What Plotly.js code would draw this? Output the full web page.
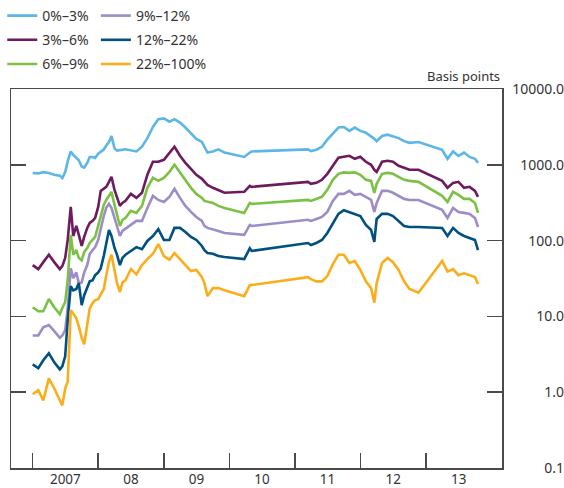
<!DOCTYPE html>
<html>
<head>
<meta charset="utf-8">
<script src="https://cdn.plot.ly/plotly-3.0.1.min.js"></script>
<style>html,body{margin:0;padding:0;background:#fff;}#chart{width:564px;height:488px;}</style>
</head>
<body>
<div id="chart"></div>
<script>
// Shared observation dates (gaps are joined by straight lines, as in the source)
const dates = [
 "2007-01-01","2007-02-01","2007-03-01","2007-04-01","2007-05-01","2007-06-01","2007-06-15",
 "2007-07-01","2007-07-15","2007-08-01","2007-08-15","2007-09-01","2007-09-15","2007-10-01",
 "2007-10-15","2007-11-01","2007-11-15","2007-12-01","2007-12-15",
 "2008-01-01","2008-01-15","2008-02-01","2008-02-15","2008-03-01","2008-03-15","2008-04-01",
 "2008-04-15","2008-05-01","2008-05-15",
 "2008-06-01","2008-07-01","2008-08-01","2008-09-01","2008-10-01","2008-11-01","2008-12-01",
 "2009-01-01","2009-02-01","2009-03-01","2009-04-01","2009-05-01","2009-06-01","2009-07-01",
 "2009-08-01","2009-08-15","2009-09-01","2009-10-01","2009-11-01","2009-12-05",
 "2010-03-25","2010-04-25","2010-05-05",
 "2011-03-15","2011-04-01","2011-05-01","2011-06-01","2011-07-01","2011-08-01","2011-09-01",
 "2011-10-01","2011-11-01","2011-12-01","2012-01-01","2012-02-01","2012-03-01","2012-03-19",
 "2012-04-01","2012-05-01","2012-06-01","2012-07-01","2012-08-01","2012-09-01","2012-10-01",
 "2012-11-20",
 "2013-04-01","2013-05-01","2013-06-01","2013-07-01","2013-08-01","2013-09-01","2013-10-01",
 "2013-10-18"
];

const seriesNames = ["0%–3%","3%–6%","6%–9%","9%–12%","12%–22%","22%–100%"];

const s0to3 = [780,770,800,780,740,720,670,800,1110,1500,1350,1250,1150,950,920,1060,1270,1270,1230,
 1400,1500,1590,1800,2000,2400,1650,1540,1580,1580,
 1600,1540,1500,1730,2250,3150,4000,4100,3700,4000,3600,3100,2600,2200,2000,1750,1450,1500,1600,1450,
 1270,1450,1500,
 1600,1520,1580,1730,2150,2600,3100,3150,2800,3100,2800,2650,2400,2200,
 2050,2400,2500,2400,2250,2050,1950,2000,
 1580,1200,1500,1310,1450,1270,1200,1060];

const s3to6 = [47.5,42,52,65,52,42,46,59,102,278,115,156,119,85,112,147,171,182,199,
 278,453,482,512,596,693,467,366,287,314,
 334,413,366,427,738,1096,1096,1164,1442,1730,1315,1062,885,738,653,596,543,497,467,427,
 440,527,512,
 596,561,578,634,760,970,1239,1276,1315,1199,1276,1096,1000,859,
 807,1096,1130,1096,970,912,859,859,
 614,497,578,596,497,512,453,378];

const s6to9 = [13.2,11.7,11.7,17,13.2,10.7,12.9,15.4,30,119,65,75,59,55,71,80,93,102,112,
 156,218,296,344,389,440,296,218,156,187,
 199,247,232,287,497,673,614,673,807,1000,783,634,497,413,366,334,324,314,287,270,
 232,314,305,
 344,334,355,378,467,634,760,794,783,794,738,634,614,427,
 561,760,783,760,693,634,614,596,
 389,324,440,401,355,355,314,232];

const s9to12 = [5.6,5.6,7.2,7.7,6.4,5.2,5.6,6.6,12.8,43,32,38,27.5,28,38,47.5,67,75,82,
 102,147,211,270,305,270,193,147,115,134,
 142,161,182,182,270,389,344,324,378,482,366,287,239,205,182,156,147,142,134,126,
 119,161,156,
 188,182,193,205,239,334,413,413,453,401,413,378,344,239,
 314,453,453,427,389,355,344,344,
 254,199,270,239,232,225,199,151];

const s12to22 = [2.33,2.07,2.64,3.26,2.48,2.0,2.19,2.98,8.9,25,22,23,27.5,14.1,19,24.3,29,30,35,
 38,43,62.5,93,138,115,80,65,47.5,59,
 65,73,82,77,99,115,142,102,102,147,147,130,112,102,85,75,68.5,67,62.5,60.7,
 57,79,73,
 93,87.5,93,102,126,166,225,252,239,225,211,161,138,96,
 193,225,225,211,182,156,151,151,
 147,115,147,126,115,108,102,75];

const s22to100 = [0.94,1.06,0.78,1.52,1.12,0.78,0.67,1.12,1.37,12.1,11,9.5,7.4,5.2,4.3,7.7,12.8,15,16.4,
 16.9,19.7,23,35,52,65,42,27.5,21,28,
 30,42,36,47.5,57,67,90,62.5,56,68.5,57,47.5,39.6,41,33,27.5,18.5,23.6,23.6,22.2,
 18.5,25.9,25.9,
 33,31,29,29,34,49,65,65,50.6,53.7,41,29,23.6,15.2,
 27.5,50.6,59,52,41,29,23,20.5,
 54,39,42,35,37,35,33,26.7];

const seriesValues = [s0to3, s3to6, s6to9, s9to12, s12to22, s22to100];
const colors = ["#5cb6e6","#6e1a5e","#7bc144","#9d8dc6","#00517f","#fbad1a"];

const yTickVals = [0.1, 1, 10, 100, 1000, 10000];
const yTickText = ["0.1","1.0","10.0","100.0","1000.0","10000.0"];
const yearBoundaries = ["2007-01-01","2008-01-01","2009-01-01","2010-01-01","2011-01-01","2012-01-01","2013-01-01"];
const yearLabelDates = ["2007-07-02","2008-07-02","2009-07-02","2010-07-02","2011-07-02","2012-07-02","2013-07-02"];
const yearLabels = ["2007","08","09","10","11","12","13"];

const font = "Noto Sans, Open Sans, DejaVu Sans, sans-serif";
const textColor = "#333333";
const axisColor = "#4a4a4a";

const traces = seriesNames.map((name, i) => ({
  type: "scatter",
  mode: "lines",
  name: name,
  x: dates,
  y: seriesValues[i],
  line: {color: colors[i], width: 2.6},
  legend: i < 3 ? "legend" : "legend2",
  legendgroup: "g" + i,
  yaxis: i === 5 ? "y2" : "y",
  hoverinfo: "x+y+name"
}));

const xRange = ["2006-09-02", "2014-03-01"];
const legendCommon = {
  orientation: "v", xref: "container", yref: "container", xanchor: "left", yanchor: "top",
  bgcolor: "rgba(0,0,0,0)", borderwidth: 0, traceorder: "grouped", tracegroupgap: 3,
  font: {family: font, size: 14, color: textColor}
};

const layout = {
  width: 564, height: 488,
  margin: {l: 11, r: 0, t: 89, b: 20, pad: 0, autoexpand: false},
  paper_bgcolor: "#ffffff", plot_bgcolor: "#ffffff",
  font: {family: font, size: 14, color: textColor},
  showlegend: true,
  legend: Object.assign({}, legendCommon, {x: 0.004, y: 1.0}),
  legend2: Object.assign({}, legendCommon, {x: 0.17, y: 1.0}),
  xaxis: {
    type: "date", range: xRange, domain: [0, 0.888],
    showgrid: false, zeroline: false, automargin: false,
    showline: true, linecolor: axisColor, linewidth: 1.5, mirror: true,
    tickmode: "array", tickvals: yearLabelDates, ticktext: yearLabels, ticks: "",
    ticklabelstandoff: -2,
    tickfont: {family: font, size: 13.5, color: textColor},
    minor: {tickmode: "array", tickvals: yearBoundaries, ticks: "inside", ticklen: 15, tickwidth: 1.5, tickcolor: axisColor, showgrid: false}
  },
  yaxis: {
    type: "log", range: [-1, 4], automargin: false,
    showgrid: false, zeroline: false,
    showline: true, linecolor: axisColor, linewidth: 1.5, mirror: "ticks",
    tickmode: "array", tickvals: yTickVals, ticktext: yTickText,
    ticks: "inside", ticklen: 15, tickwidth: 1.5, tickcolor: axisColor,
    showticklabels: false
  },
  yaxis2: {
    type: "log", range: [-1, 4], overlaying: "y", anchor: "free", position: 1, side: "left",
    showgrid: false, zeroline: false, showline: false, ticks: "", automargin: false,
    tickmode: "array", tickvals: yTickVals, ticktext: yTickText,
    tickfont: {family: font, size: 14, color: textColor}
  },
  annotations: [{
    text: "Basis points", xref: "paper", yref: "paper", x: 0.888, y: 1,
    xanchor: "right", yanchor: "bottom", yshift: 2, showarrow: false,
    font: {family: font, size: 13, color: textColor}
  }]
};

Plotly.newPlot("chart", traces, layout, {displayModeBar: false, staticPlot: true});
</script>
</body>
</html>
